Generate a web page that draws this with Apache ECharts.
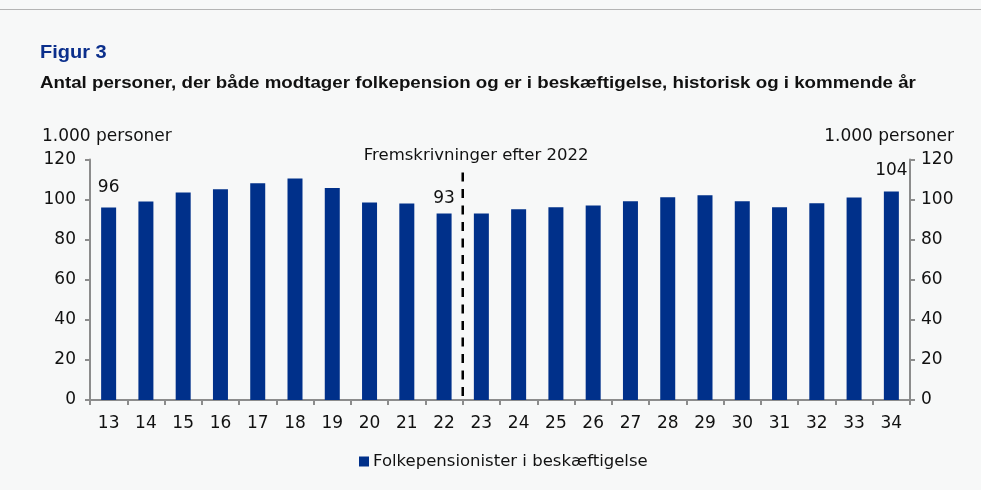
<!DOCTYPE html>
<html>
<head>
<meta charset="utf-8">
<script src="https://cdn.jsdelivr.net/npm/echarts@6/dist/echarts.min.js"></script>
<style>
  html, body { margin: 0; padding: 0; background: #f7f8f8; }
  #chart { width: 981px; height: 490px; }
</style>
</head>
<body>
<div id="chart"></div>
<script>
// år (2013-2034)
const years = ["13", "14", "15", "16", "17", "18", "19", "20", "21", "22", "23",
  "24", "25", "26", "27", "28", "29", "30", "31", "32", "33", "34"];
// 1.000 personer
const folkepensionister = [96, 99, 103.5, 105.2, 108.2, 110.5, 105.8, 98.5, 98, 93, 93,
  95.2, 96.2, 97, 99.2, 101.2, 102.2, 99.2, 96.2, 98.2, 101, 104];
const labelledIdx = [0, 9, 21];
const labelValues = ["96", "93", "104"];
const labelLift = [12, 7, 12];
const splitPos = 10; // fremskrivninger fra 2023
const splitTop = 113.5;

const font = "DejaVu Sans, Liberation Sans, sans-serif";
const titleFont = "Liberation Sans, Arial, sans-serif";
let myCharts = echarts.init(document.getElementById("chart"));

let option = {
  backgroundColor: "#f7f8f8",
  animation: false,
  textStyle: { fontFamily: font },
  graphic: [
    { type: "line", shape: { x1: 0, y1: 9.5, x2: 981, y2: 9.5 }, style: { stroke: "#b4b4b4", lineWidth: 1 } },
    {
      type: "text", x: 40, y: 44, scaleX: 1.11,
      style: { text: "Figur 3", x: 0, y: 0, verticalAlign: "top", font: "bold 18px " + titleFont, fill: "#0b2f8c" },
    },
    {
      type: "text", x: 40, y: 76, scaleX: 1.17,
      style: { text: "Antal personer, der både modtager folkepension og er i beskæftigelse, historisk og i kommende år", x: 0, y: 0, verticalAlign: "top", font: "bold 16px " + titleFont, fill: "#111" },
    },
    { type: "text", left: 42, top: 128, style: { text: "1.000 personer", font: "17px " + font, fill: "#111" } },
    { type: "text", right: 27, top: 128, style: { text: "1.000 personer", font: "17px " + font, fill: "#111" } },
  ],
  grid: { left: 90, right: 71, top: 159.5, bottom: 90 },
  legend: {
    bottom: 20,
    left: 359,
    padding: 0,
    icon: "rect",
    itemWidth: 10,
    itemHeight: 10,
    itemGap: 4,
    data: ["Folkepensionister i beskæftigelse"],
    textStyle: { fontSize: 16.5, color: "#111", fontFamily: font, padding: [0, 0, 0, -1] },
  },
  xAxis: [
    {
      type: "category",
      data: years,
      axisLine: { lineStyle: { color: "#8c8c8c", width: 2 } },
      axisTick: { show: true, length: 5, lineStyle: { color: "#8c8c8c", width: 2 } },
      axisLabel: { fontSize: 17, color: "#111", margin: 15 },
    },
    { type: "value", min: 0, max: years.length, show: false },
  ],
  yAxis: [
    {
      type: "value",
      min: 0, max: 120, interval: 20,
      position: "left",
      axisLine: { show: true, lineStyle: { color: "#8c8c8c", width: 2 } },
      axisTick: { show: true, length: 5, lineStyle: { color: "#8c8c8c", width: 2 } },
      axisLabel: { fontSize: 17, color: "#111", margin: 14 },
      splitLine: { show: false },
    },
    {
      type: "value",
      min: 0, max: 120, interval: 20,
      position: "right",
      axisLine: { show: true, lineStyle: { color: "#8c8c8c", width: 2 } },
      axisTick: { show: true, length: 5, lineStyle: { color: "#8c8c8c", width: 2 } },
      axisLabel: { fontSize: 17, color: "#111", margin: 11 },
      splitLine: { show: false },
    },
  ],
  series: [
    {
      name: "Folkepensionister i beskæftigelse",
      type: "bar",
      xAxisIndex: 0,
      yAxisIndex: 0,
      barWidth: 15,
      itemStyle: { color: "#00308a" },
      data: folkepensionister.map((v, i) => {
        let k = labelledIdx.indexOf(i);
        if (k < 0) return v;
        return {
          value: v,
          label: {
            show: true, position: "top", distance: labelLift[k], fontSize: 17, color: "#111",
            formatter: labelValues[k],
          },
        };
      }),
    },
    {
      name: "split",
      type: "line",
      xAxisIndex: 1,
      yAxisIndex: 0,
      data: [[splitPos, splitTop], [splitPos, 0]],
      symbol: "none",
      lineStyle: { color: "#000", width: 2.5, type: [9, 7.5] },
      silent: true,
      markPoint: {
        symbol: "circle",
        symbolSize: 0,
        silent: true,
        data: [{ coord: [splitPos + 0.36, splitTop] }],
        label: {
          show: true,
          position: "top",
          distance: 8,
          formatter: "Fremskrivninger efter 2022",
          fontSize: 16.5,
          color: "#111",
        },
      },
    },
  ],
};
myCharts.setOption(option);
</script>
</body>
</html>
